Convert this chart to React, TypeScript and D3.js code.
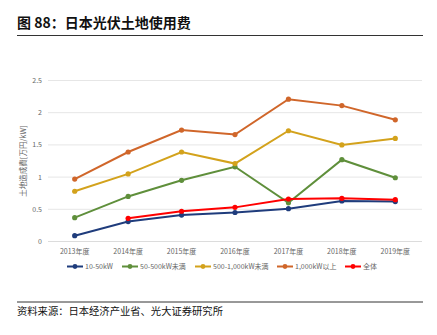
import React from "react";
import * as d3 from "d3";

const categories = ["2013年度", "2014年度", "2015年度", "2016年度", "2017年度", "2018年度", "2019年度"];
const seriesNames = ["10-50kW", "50-500kW未満", "500-1,000kW未満", "1,000kW以上", "全体"];
const s10_50: (number | null)[] = [0.09, 0.31, 0.41, 0.45, 0.51, 0.63, 0.62];
const s50_500: (number | null)[] = [0.37, 0.70, 0.95, 1.16, 0.60, 1.27, 0.99];
const s500_1000: (number | null)[] = [0.78, 1.05, 1.39, 1.21, 1.72, 1.50, 1.60];
const s1000: (number | null)[] = [0.97, 1.39, 1.73, 1.66, 2.21, 2.11, 1.89];
const sAll: (number | null)[] = [null, 0.36, 0.47, 0.53, 0.66, 0.67, 0.65];
const yTicks = [0, 0.5, 1, 1.5, 2, 2.5];
const colors = ["#1f3c7c", "#5f8f3b", "#d3a21c", "#d0662a", "#ff0000"];

const allSeries = [s10_50, s50_500, s500_1000, s1000, sAll];

export default function App() {
  const W = 437, H = 335;
  const x = d3.scalePoint<string>().domain(categories).range([48, 422]).padding(0.5);
  const y = d3.scaleLinear().domain([0, 2.5]).range([241.5, 80.5]);
  const line = d3
    .line<number | null>()
    .defined((d) => d !== null)
    .x((_, i) => x(categories[i]) as number)
    .y((d) => y(d as number));
  const font = "'Noto Sans CJK SC', 'Noto Sans', sans-serif";
  const legendX = [67, 122, 195, 277, 345];
  const legendY = 266.5;
  return (
    <div style={{ position: "absolute", left: 0, top: 0 }}>
      <svg width={W} height={H} style={{ display: "block", background: "#fff" }} fontFamily={font}>
        <text x={17} y={28} fontSize={14} fontWeight="bold" fill="#111">图 88：日本光伏土地使用费</text>
        <line x1={17} x2={423} y1={35.5} y2={35.5} stroke="#333" strokeWidth={1} />
        {yTicks.map((t) => (
          <g key={t}>
            <line x1={48} x2={422} y1={y(t)} y2={y(t)} stroke={t === 0 ? "#dcdcdc" : "#e6e6e6"} strokeWidth={1} />
            <text x={42} y={y(t) + 2.5} fontSize={7} fill="#666" textAnchor="end">{t}</text>
          </g>
        ))}
        <text
          transform={`translate(26,${y(1.25)}) rotate(-90)`}
          fontSize={7.5}
          fill="#666"
          textAnchor="middle"
        >
          土地造成費[万円/kW]
        </text>
        {categories.map((c) => (
          <text key={c} x={x(c)} y={254} fontSize={7} fill="#666" textAnchor="middle">{c}</text>
        ))}
        {allSeries.map((s, si) => (
          <g key={si}>
            <path d={line(s) || ""} fill="none" stroke={colors[si]} strokeWidth={2} />
            {s.map((v, i) =>
              v === null ? null : (
                <circle key={i} cx={x(categories[i])} cy={y(v)} r={2.6} fill={colors[si]} />
              )
            )}
          </g>
        ))}
        {seriesNames.map((n, i) => (
          <g key={n}>
            <line x1={legendX[i]} x2={legendX[i] + 16} y1={legendY} y2={legendY} stroke={colors[i]} strokeWidth={2} />
            <circle cx={legendX[i] + 8} cy={legendY} r={2.4} fill={colors[i]} />
            <text x={legendX[i] + 18} y={legendY + 2.5} fontSize={7} fill="#666">{n}</text>
          </g>
        ))}
        <line x1={17} x2={423} y1={302} y2={302} stroke="#333" strokeWidth={1} />
        <text x={17} y={315} fontSize={10.3} fill="#111">资料来源：日本经济产业省、光大证券研究所</text>
      </svg>
    </div>
  );
}
